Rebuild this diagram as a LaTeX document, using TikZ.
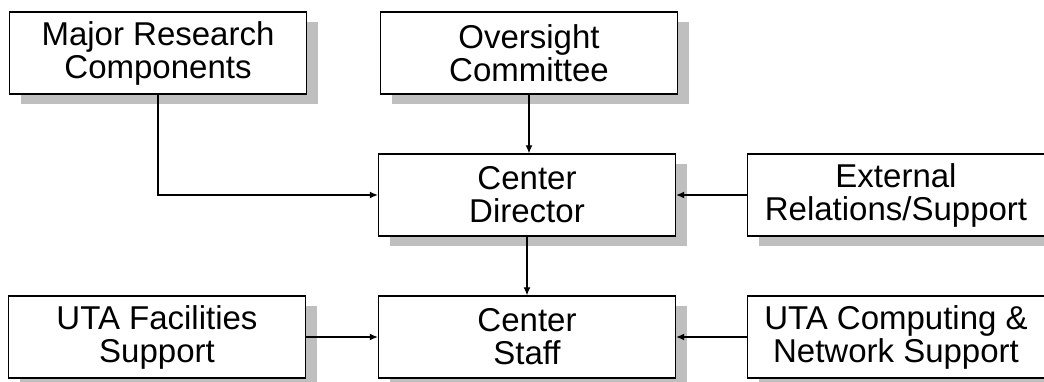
\documentclass[tikz,border=0pt]{standalone}
\usepackage{fontspec}
\setmainfont{Liberation Sans}
\usepackage{tikz}
\usetikzlibrary{arrows.meta, positioning, shadows}

\begin{document}
\begin{tikzpicture}[x=1pt, y=-1pt,
  unit/.style={draw, line width=1.4pt, fill=white, minimum width=297pt, minimum height=82pt,
    align=center, inner sep=0pt,
    font=\fontsize{33}{33}\selectfont,
    general shadow={fill=black!25, shadow xshift=11pt, shadow yshift=-10pt}},
  link/.style={line width=1.2pt, -{Latex[length=8pt, width=7pt]}}]
\useasboundingbox (0,0) rectangle (1044,382);

% Boxes
\node[unit] (research) at (158,53) {Major Research\\Components};
\node[unit] (oversight) at (529,53) {Oversight\\Committee};
\node[unit] (director) at (527,195) {Center\\Director};
\node[unit] (external) at (896,195) {External\\Relations/Support};
\node[unit] (facilities) at (157,337) {UTA Facilities\\Support};
\node[unit] (staff) at (527,337) {Center\\Staff};
\node[unit] (computing) at (896,337) {UTA Computing \&\\Network Support};

% Links
\draw[link] (research.south) |- (director.west);
\draw[link] (oversight.south) -- (oversight.south |- director.north);
\draw[link] (external.west) -- (director.east);
\draw[link] (director.south) -- (staff.north);
\draw[link] (facilities.east) -- (staff.west);
\draw[link] (computing.west) -- (staff.east);
\end{tikzpicture}
\end{document}
